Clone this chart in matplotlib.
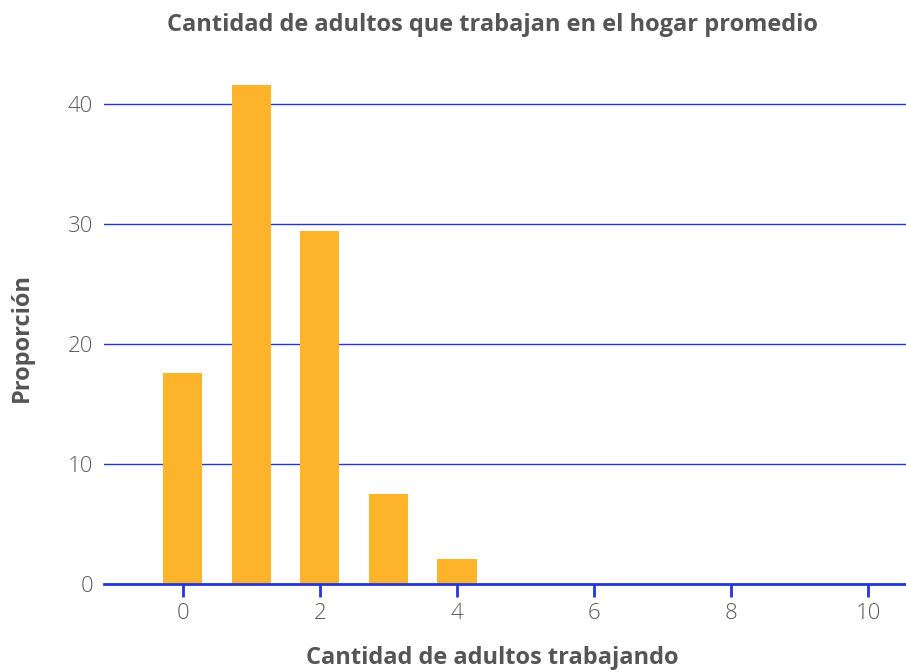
import matplotlib
matplotlib.use("Agg")
import matplotlib.pyplot as plt

categories = [0, 1, 2, 3, 4]
values = [17.6, 41.6, 29.4, 7.5, 2.1]
xticks = [0, 2, 4, 6, 8, 10]
yticks = [0, 10, 20, 30, 40]

plt.rcParams['font.family'] = ['Open Sans', 'DejaVu Sans']

fig = plt.figure(figsize=(9.06, 6.72), dpi=100)
ax = fig.add_axes([104/906, 88/672, 802/906, 524/672])

bar_color = '#FDB32A'
blue = '#2536D9'
gray = '#555555'

ax.bar(categories, values, width=0.57, color=bar_color, zorder=3)

ax.set_xlim(-1.15, 10.55)
ax.set_ylim(0, 43.7)
ax.set_xticks(xticks)
ax.set_yticks(yticks)
ax.grid(axis='y', color=blue, linewidth=1.0, zorder=1)
ax.grid(axis='x', visible=False)

for s in ['top', 'right', 'left']:
    ax.spines[s].set_visible(False)
ax.spines['bottom'].set_color(blue)
ax.spines['bottom'].set_linewidth(2)
ax.spines['bottom'].set_zorder(4)

ax.tick_params(axis='x', colors=blue, length=9, width=2, direction='out',
               labelcolor='#5a5a5a', labelsize=16, pad=5)
ax.tick_params(axis='y', length=0, labelcolor='#5a5a5a', labelsize=16, pad=8)
for lbl in ax.get_xticklabels() + ax.get_yticklabels():
    lbl.set_fontweight('light')

fig.text(492/906, 1 - 25/672, 'Cantidad de adultos que trabajan en el hogar promedio',
         ha='center', va='center', fontsize=17, fontweight='bold', color=gray)
fig.text(492/906, 1 - 658/672, 'Cantidad de adultos trabajando',
         ha='center', va='center', fontsize=17, fontweight='bold', color=gray)
fig.text(22/906, 1 - 338/672, 'Proporción', rotation=90,
         ha='center', va='center', fontsize=17, fontweight='bold', color=gray)

fig.savefig('out.png', dpi=100)
